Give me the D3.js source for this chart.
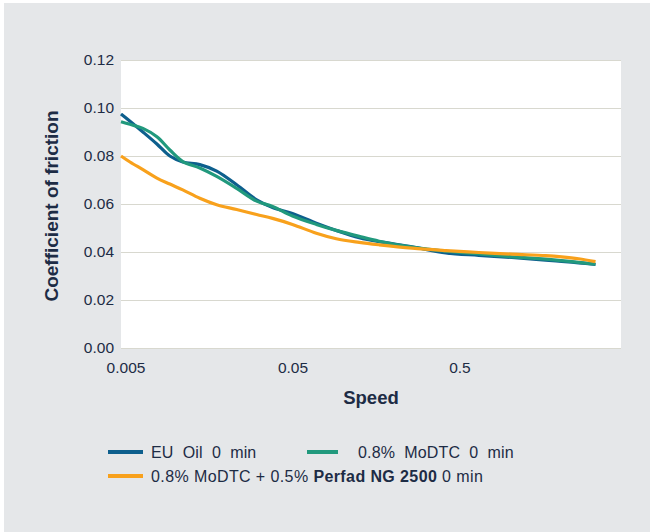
<!DOCTYPE html>
<html>
<head>
<meta charset="utf-8">
<script src="https://cdn.jsdelivr.net/npm/d3@7"></script>
<style>
  html, body { margin: 0; padding: 0; background: #ffffff; }
  svg { display: block; }
  text { font-family: "Liberation Sans", Arial, sans-serif; }
</style>
</head>
<body>
<svg id="chart" width="650" height="532"></svg>
<script>
// ---- data ----
const speeds = [0.00470, 0.00532, 0.00636, 0.00771, 0.00922, 0.01102, 0.01393, 0.01759,
  0.02316, 0.03050, 0.03800, 0.05000, 0.0695, 0.0915, 0.1256, 0.1653, 0.2601, 0.4148,
  0.6537, 1.030, 1.642, 2.045, 2.590, 3.265];

const euOil = [0.0975, 0.0945, 0.0900, 0.0850, 0.0800, 0.0775, 0.0764, 0.0737,
  0.0680, 0.0617, 0.0585, 0.0560, 0.0520, 0.0490, 0.0460, 0.0443, 0.0422, 0.0396,
  0.0386, 0.0377, 0.0366, 0.0361, 0.0355, 0.0348];

const moDTC = [0.0943, 0.0932, 0.0915, 0.0880, 0.0825, 0.0777, 0.0750, 0.0715,
  0.0665, 0.0612, 0.0590, 0.0550, 0.0515, 0.0490, 0.0465, 0.0445, 0.0420, 0.0403,
  0.0392, 0.0380, 0.0370, 0.0364, 0.0357, 0.0349];

const moDTCPerfad = [0.0800, 0.0775, 0.0743, 0.0708, 0.0683, 0.0659, 0.0624, 0.0597,
  0.0577, 0.0556, 0.0540, 0.0515, 0.0478, 0.0455, 0.0440, 0.0430, 0.0416, 0.0406,
  0.0398, 0.0391, 0.0385, 0.0380, 0.0372, 0.0360];

const xTicks = [0.005, 0.05, 0.5];
const xTickLabels = ["0.005", "0.05", "0.5"];
const yTicks = [0, 0.02, 0.04, 0.06, 0.08, 0.10, 0.12];
const yTickLabels = ["0.00", "0.02", "0.04", "0.06", "0.08", "0.10", "0.12"];

const seriesNames = ["EU  Oil  0  min", "0.8%  MoDTC  0  min", "0.8% MoDTC + 0.5% Perfad NG 2500 0 min"];
const seriesColors = ["#0d5f8d", "#21997d", "#f8a11c"];

// ---- layout ----
const svg = d3.select("#chart");
const W = 650, H = 532;
const plot = { left: 121, right: 621, top: 60, bottom: 348 };
const textColor = "#1d2c45";
const gridColor = "#d8d8cf";

svg.append("rect").attr("x", 4).attr("y", 3).attr("width", W - 4).attr("height", H - 3)
  .attr("fill", "#e5e7e9");
svg.append("rect").attr("x", plot.left).attr("y", plot.top)
  .attr("width", plot.right - plot.left).attr("height", plot.bottom - plot.top)
  .attr("fill", "#ffffff");

const x = d3.scaleLog().domain([0.0047, 4.64]).range([plot.left, plot.right]);
const y = d3.scaleLinear().domain([0, 0.12]).range([plot.bottom, plot.top]);

// gridlines via axis
const yGrid = d3.axisLeft(y).tickValues(yTicks)
  .tickSize(-(plot.right - plot.left)).tickFormat("");
const gGrid = svg.append("g").attr("transform", `translate(${plot.left},0)`).call(yGrid);
gGrid.select(".domain").remove();
gGrid.selectAll("line").attr("stroke", gridColor).attr("stroke-width", 1.3)
  .attr("shape-rendering", "crispEdges");

// y tick labels
const yAxis = d3.axisLeft(y).tickValues(yTicks)
  .tickFormat((d, i) => yTickLabels[i]).tickSize(0).tickPadding(7);
const gy = svg.append("g").attr("transform", `translate(${plot.left},0)`).call(yAxis);
gy.select(".domain").remove();
gy.selectAll("text").attr("fill", textColor).style("font-size", "15.5px")
  .style("font-family", "Liberation Sans, Arial, sans-serif");

// x tick labels
const xAxis = d3.axisBottom(x).tickValues(xTicks)
  .tickFormat((d, i) => xTickLabels[i]).tickSize(0).tickPadding(14);
const gx = svg.append("g").attr("transform", `translate(0,${plot.bottom})`).call(xAxis);
gx.select(".domain").remove();
gx.selectAll("text").attr("fill", textColor).style("font-size", "15.5px")
  .style("font-family", "Liberation Sans, Arial, sans-serif");

// axis titles
svg.append("text").attr("x", (plot.left + plot.right) / 2).attr("y", 404)
  .attr("text-anchor", "middle").attr("fill", textColor)
  .style("font-size", "18.5px").style("font-weight", "bold").text("Speed");
svg.append("text").attr("transform", "translate(58,206) rotate(-90)")
  .attr("text-anchor", "middle").attr("fill", textColor)
  .style("font-size", "19px").style("font-weight", "bold").text("Coefficient of friction");

// lines
const allSeries = [euOil, moDTC, moDTCPerfad];
const line = d3.line()
  .x(d => x(d[0])).y(d => y(d[1]))
  .curve(d3.curveCatmullRom.alpha(0.5));
allSeries.forEach((vals, i) => {
  const pts = speeds.map((s, k) => [s, vals[k]]);
  svg.append("path").datum(pts)
    .attr("d", line).attr("fill", "none")
    .attr("stroke", seriesColors[i]).attr("stroke-width", 3.2)
    .attr("stroke-linecap", "butt").attr("stroke-linejoin", "round");
});

// legend
const legendItems = [
  { x: 108, y: 452, tx: 151 },
  { x: 307, y: 452, tx: 358 },
  { x: 108, y: 476, tx: 151 }
];
legendItems.forEach((p, i) => {
  const w = i === 1 ? 31 : 35;
  svg.append("line").attr("x1", p.x).attr("x2", p.x + w).attr("y1", p.y).attr("y2", p.y)
    .attr("stroke", seriesColors[i]).attr("stroke-width", 4);
  const t = svg.append("text").attr("x", p.tx).attr("y", p.y + 5.5)
    .attr("fill", textColor).style("font-size", "16px").style("white-space", "pre");
  if (i === 2) {
    t.style("letter-spacing", "0.4px");
    t.append("tspan").text("0.8% MoDTC + 0.5% ");
    t.append("tspan").style("font-weight", "bold").text("Perfad NG 2500");
    t.append("tspan").text(" 0 min");
  } else {
    t.style("letter-spacing", "0.15px");
    t.text(seriesNames[i]);
  }
});
</script>
</body>
</html>
